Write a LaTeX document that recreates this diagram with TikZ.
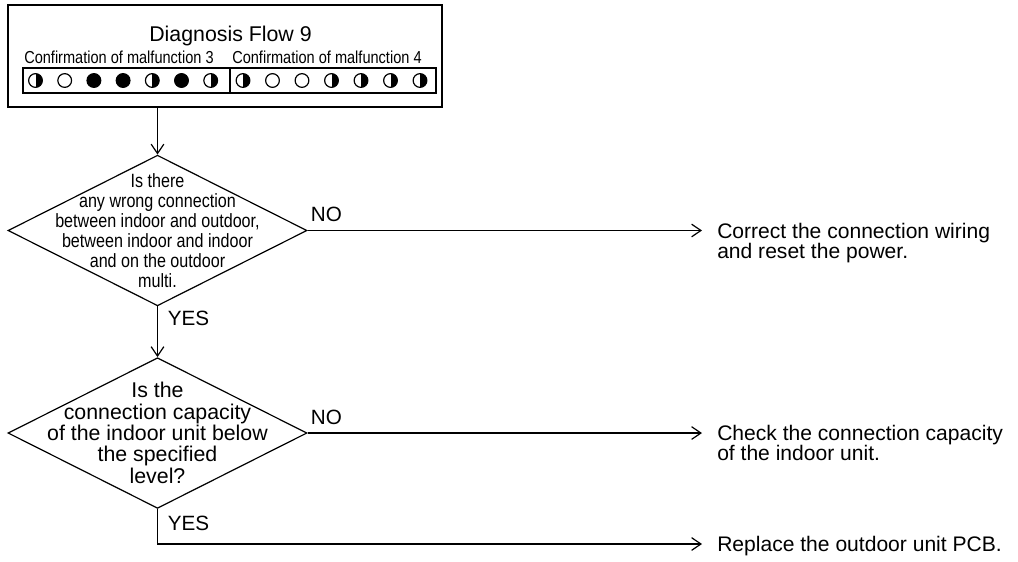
\documentclass[tikz,border=0pt]{standalone}
\usepackage{fontspec}
\setmainfont{Liberation Sans}
\newfontfamily\narrowfont[FakeStretch=0.84]{Liberation Sans}
\usetikzlibrary{shapes.geometric,arrows.meta,positioning,calc}

\begin{document}
\begin{tikzpicture}[
        x=0.75pt, y=0.75pt,
        panel/.style={draw, line width=1pt, minimum width=325.5pt, minimum height=76.5pt, inner sep=0pt},
        row/.style={draw, line width=0.9pt, minimum height=18.75pt, inner sep=0pt},
        lamp/.style={circle, draw, line width=0.9pt, minimum size=10.3pt, inner sep=0pt},
        lampo/.style={lamp},
        lampf/.style={lamp, fill=black},
        lamph/.style={lamp, path picture={\fill[black] (path picture bounding box.north) rectangle (path picture bounding box.south east);}},
        decision/.style={draw, diamond, line width=0.9pt, minimum width=224.25pt, minimum height=113pt, inner sep=0pt},
        qtext/.style={align=center, inner sep=0pt},
        result/.style={align=left, inner sep=0pt, anchor=north west, font=\fontsize{15.8}{15}\selectfont},
        lbl/.style={inner sep=0pt, anchor=base west, font=\fontsize{15.5}{18}\selectfont},
        arrow/.style={draw, line width=0.9pt, ->, >={Straight Barb[length=7pt,width=9.5pt]}}
    ]
        \useasboundingbox (0,0) rectangle (1018,-561);

        % Header: flow number and LED patterns
        \node[panel] (panel) at (225,-56) {};
        \node[inner sep=0pt, anchor=base, font=\fontsize{16}{19}\selectfont] (title) at (230.5,-41) {Diagnosis Flow 9};
        \node[row, minimum width=155.25pt] (row3) at (126.5,-80.5) {};
        \node[row, minimum width=154.5pt] (row4) at (333,-80.5) {};
        \node[inner sep=0pt, anchor=base west, font=\narrowfont\fontsize{13}{15}\selectfont] (sub3) at (24,-63) {Confirmation of malfunction 3};
        \node[inner sep=0pt, anchor=base west, font=\narrowfont\fontsize{13}{15}\selectfont] (sub4) at (232,-63) {Confirmation of malfunction 4};
        \foreach \s [count=\i] in {lamph,lampo,lampf,lampf,lamph,lampf,lamph}
            \node[\s] (m3-\i) at ({35.5+(\i-1)*29.2},-80.5) {};
        \foreach \s [count=\i] in {lamph,lampo,lampo,lamph,lamph,lamph,lamph}
            \node[\s] (m4-\i) at ({243+(\i-1)*29.5},-80.5) {};

        % Decisions
        \node[decision] (q1) at (157.5,-230.5) {};
        \node[qtext, font=\narrowfont\fontsize{14.4}{15}\selectfont] (q1t) at (q1) {Is there\\any wrong connection\\between indoor and outdoor,\\between indoor and indoor\\and on the outdoor\\multi.};
        \node[decision, below=38pt of q1] (q2) {};
        \node[qtext, font=\fontsize{16}{16}\selectfont] (q2t) at (q2) {Is the\\connection capacity\\of the indoor unit below\\the specified\\level?};

        % Results
        \coordinate (rx) at (702,0);
        \coordinate (end1) at (q1.east -| rx);
        \coordinate (end2) at (q2.east -| rx);
        \coordinate (end3) at (702,-544);
        \node[result] (fix1) at ($(end1)+(15,7.7)$) {Correct the connection wiring\\and reset the power.};
        \node[result] (fix2) at ($(end2)+(15,7.7)$) {Check the connection capacity\\of the indoor unit.};
        \node[result] (fix3) at ($(end3)+(15,7.7)$) {Replace the outdoor unit PCB.};

        % Arrows
        \draw[arrow] (panel.south -| q1.north) -- (q1.north);
        \draw[arrow] (q1.east) -- (end1);
        \draw[arrow] (q1.south) -- (q2.north);
        \draw[arrow] (q2.east) -- (end2);
        \draw[arrow] (q2.south) |- (end3);

        % Labels
        \node[lbl] (no1) at ($(q1.east)+(3,9)$) {NO};
        \node[lbl] (yes1) at ($(q1.south)+(10,-19)$) {YES};
        \node[lbl] (no2) at ($(q2.east)+(3,9)$) {NO};
        \node[lbl] (yes2) at ($(q2.south)+(10,-22)$) {YES};
    \end{tikzpicture}
\end{document}
